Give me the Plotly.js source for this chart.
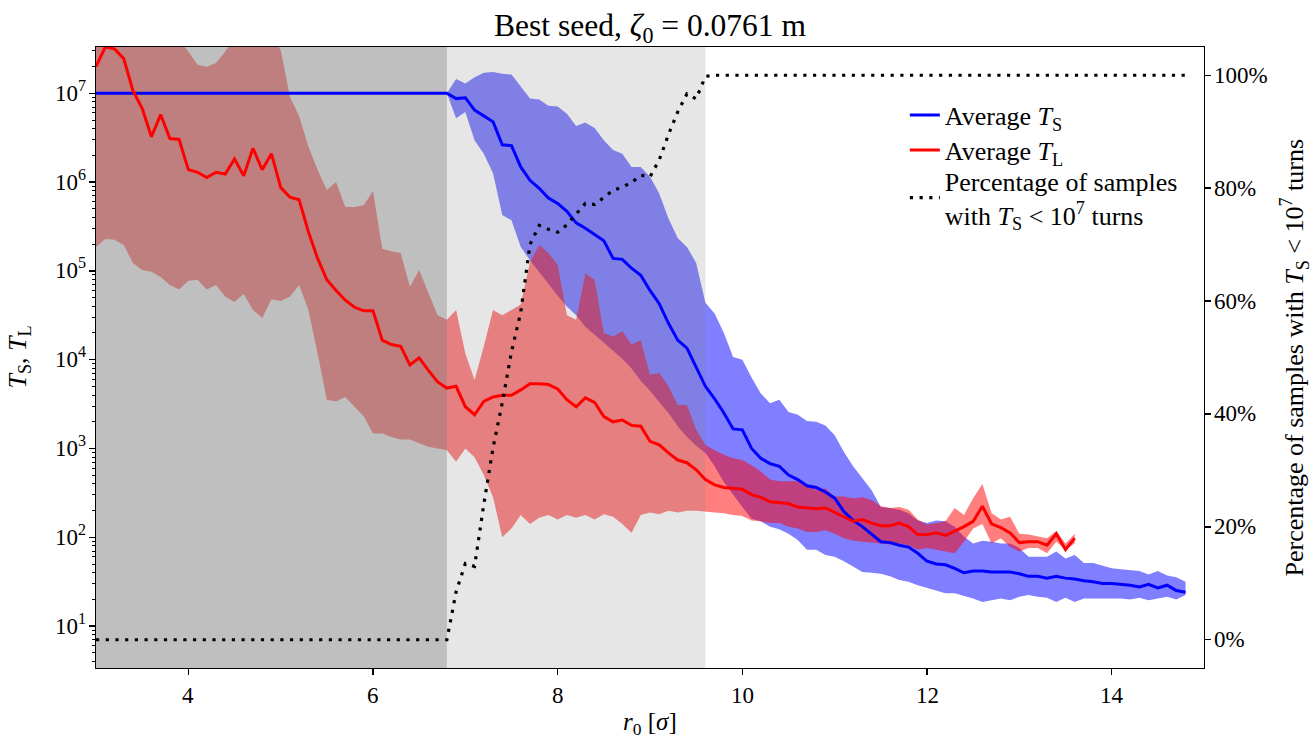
<!DOCTYPE html>
<html>
<head>
<meta charset="utf-8">
<script src="https://cdn.plot.ly/plotly-3.0.1.min.js"></script>
<style>html,body{margin:0;padding:0;background:#fff;}#chart{width:1314px;height:741px;}</style>
</head>
<body>
<div id="chart"></div>
<script>
// r0 values (in sigma)
const r0 = [3.0,3.1,3.2,3.3,3.4,3.5,3.6,3.7,3.8,3.9,
4.0,4.1,4.2,4.3,4.4,4.5,4.6,4.7,4.8,4.9,
5.0,5.1,5.2,5.3,5.4,5.5,5.6,5.7,5.8,5.9,
6.0,6.1,6.2,6.3,6.4,6.5,6.6,6.7,6.8,6.9,
7.0,7.1,7.2,7.3,7.4,7.5,7.6,7.7,7.8,7.9,
8.0,8.1,8.2,8.3,8.4,8.5,8.6,8.7,8.8,8.9,
9.0,9.1,9.2,9.3,9.4,9.5,9.6,9.7,9.8,9.9,
10.0,10.1,10.2,10.3,10.4,10.5,10.6,10.7,10.8,10.9,
11.0,11.1,11.2,11.3,11.4,11.5,11.6,11.7,11.8,11.9,
12.0,12.1,12.2,12.3,12.4,12.5,12.6,12.7,12.8,12.9,
13.0,13.1,13.2,13.3,13.4,13.5,13.6,13.7,13.8,13.9,
14.0,14.1,14.2,14.3,14.4,14.5,14.6,14.7,14.8];

// log10 of average T_S and its band (3.0 .. 14.8)
const logTS_mean = [7,7,7,7,7,7,7,7,7,7, 7,7,7,7,7,7,7,7,7,7, 7,7,7,7,7,7,7,7,7,7, 7,7,7,7,7,7,7,7,7,
6.94,6.95,6.81,6.74,6.68,6.42,6.41,6.17,6.02,5.93,
5.82,5.76,5.67,5.54,5.48,5.41,5.34,5.14,5.13,5.03,
4.95,4.78,4.63,4.41,4.22,4.13,3.92,3.70,3.56,3.40,
3.22,3.21,3.00,2.89,2.83,2.80,2.70,2.65,2.58,2.56,
2.51,2.44,2.29,2.19,2.12,2.04,1.95,1.94,1.91,1.89,
1.82,1.73,1.70,1.69,1.65,1.60,1.62,1.62,1.61,1.61,
1.61,1.59,1.56,1.56,1.54,1.56,1.54,1.53,1.51,1.50,
1.48,1.48,1.47,1.46,1.44,1.47,1.43,1.46,1.40,1.38];
const logTS_upper = [7,7,7,7,7,7,7,7,7,7, 7,7,7,7,7,7,7,7,7,7, 7,7,7,7,7,7,7,7,7,7, 7,7,7,7,7,7,7,7,7,
7.16,7.11,7.18,7.23,7.24,7.22,7.21,7.07,6.94,6.93,
6.86,6.85,6.77,6.63,6.67,6.61,6.47,6.36,6.32,6.17,
6.17,6.06,5.87,5.59,5.37,5.27,5.09,4.64,4.52,4.30,
4.03,4.00,3.80,3.62,3.51,3.55,3.41,3.38,3.31,3.30,
3.26,3.15,2.96,2.80,2.66,2.53,2.34,2.33,2.31,2.27,
2.19,2.16,2.19,2.18,2.12,2.01,1.93,1.96,1.95,1.93,
1.93,1.88,1.78,1.78,1.78,1.84,1.76,1.80,1.71,1.71,
1.68,1.65,1.64,1.63,1.62,1.58,1.62,1.57,1.55,1.50];
const logTS_lower = [7,7,7,7,7,7,7,7,7,7, 7,7,7,7,7,7,7,7,7,7, 7,7,7,7,7,7,7,7,7,7, 7,7,7,7,7,7,7,7,7,
6.72,6.79,6.47,6.32,6.10,5.63,5.57,5.27,5.12,4.99,
4.85,4.72,4.60,4.50,4.37,4.28,4.19,4.10,4.01,3.90,
3.76,3.65,3.52,3.40,3.25,3.13,3.03,2.95,2.80,2.62,
2.48,2.34,2.21,2.18,2.12,2.09,2.04,1.97,1.86,1.86,
1.80,1.78,1.73,1.67,1.61,1.60,1.59,1.56,1.52,1.50,
1.46,1.43,1.40,1.37,1.37,1.34,1.31,1.27,1.29,1.31,
1.29,1.33,1.35,1.33,1.32,1.27,1.32,1.27,1.31,1.31,
1.31,1.31,1.31,1.30,1.32,1.29,1.31,1.33,1.30,1.35];

// log10 of average T_L and its band (3.0 .. 13.6)
const logTL_mean = [7.30,7.52,7.50,7.39,7.03,6.83,6.51,6.76,6.49,6.48,
6.14,6.11,6.05,6.11,6.09,6.26,6.07,6.38,6.14,6.32,
5.94,5.83,5.80,5.44,5.14,4.90,4.78,4.67,4.59,4.55,
4.55,4.22,4.17,4.15,3.94,4.02,3.88,3.75,3.68,3.70,
3.47,3.38,3.53,3.58,3.60,3.60,3.66,3.73,3.73,3.72,
3.67,3.55,3.47,3.57,3.52,3.36,3.30,3.32,3.26,3.25,
3.08,3.04,2.95,2.87,2.84,2.76,2.65,2.59,2.56,2.55,
2.54,2.48,2.45,2.40,2.39,2.38,2.34,2.33,2.32,2.33,
2.28,2.23,2.18,2.20,2.16,2.13,2.13,2.16,2.12,2.03,
2.03,2.05,2.02,2.07,2.12,2.18,2.35,2.15,2.11,2.05,
1.94,1.95,1.95,1.91,2.04,1.86,1.99];
const logTL_upper = [7.75,7.90,7.95,7.85,7.70,7.80,7.75,7.70,7.65,7.60,
7.47,7.32,7.30,7.34,7.47,7.62,7.58,7.70,7.60,7.65,
7.49,6.96,6.74,6.40,6.14,5.91,6.00,5.72,5.72,5.74,
5.90,5.25,5.22,5.20,4.82,5.01,4.75,4.50,4.45,4.56,
4.07,3.77,4.15,4.56,4.50,4.56,4.62,5.10,5.29,5.20,
5.07,4.50,4.45,4.97,4.90,4.30,4.26,4.32,4.17,4.22,
3.83,3.85,3.70,3.49,3.49,3.21,3.04,2.98,2.93,2.89,
2.87,2.81,2.74,2.65,2.63,2.63,2.63,2.59,2.53,2.55,
2.46,2.46,2.44,2.45,2.42,2.35,2.33,2.34,2.31,2.20,
2.14,2.16,2.18,2.33,2.25,2.44,2.60,2.27,2.20,2.23,
2.04,2.03,2.01,1.99,2.07,1.93,2.04];
const logTL_lower = [5.27,5.36,5.35,5.29,5.09,5.01,4.99,4.93,4.84,4.79,
4.89,4.90,4.79,4.84,4.71,4.65,4.74,4.56,4.47,4.68,
4.66,4.71,4.84,4.56,4.07,3.55,3.53,3.58,3.47,3.36,
3.17,3.17,3.13,3.10,3.10,3.06,3.02,3.00,2.98,2.85,
3.00,2.90,2.70,2.45,2.00,2.10,2.25,2.15,2.22,2.25,
2.20,2.25,2.22,2.25,2.20,2.26,2.23,2.15,2.05,2.25,
2.28,2.26,2.30,2.28,2.30,2.30,2.29,2.28,2.27,2.25,
2.24,2.19,2.18,2.16,2.16,2.12,2.10,2.06,2.06,2.08,
2.04,1.99,1.96,1.95,1.94,1.93,1.92,1.93,1.91,1.86,
1.88,1.86,1.84,1.82,1.95,2.10,2.15,1.93,1.99,1.89,
1.84,1.88,1.88,1.82,1.95,1.86,1.93];

// percentage of samples with T_S < 1e7 turns (3.0 .. 14.8)
const pctBelow = [0,0,0,0,0,0,0,0,0,0, 0,0,0,0,0,0,0,0,0,0, 0,0,0,0,0,0,0,0,0,0, 0,0,0,0,0,0,0,0,0,
8.5,13.5,13,24,34,42,51,58,70,73.4,
72.7,72.2,73.5,75.5,77.3,77.1,78.4,79.6,80.2,81,
82.3,82,85,89.5,93.5,96.7,95.8,99.8,
100,100,100,100,100,100,100,100,100,100,
100,100,100,100,100,100,100,100,100,100,
100,100,100,100,100,100,100,100,100,100,
100,100,100,100,100,100,100,100,100,100,
100,100,100,100,100,100,100,100,100,100,
100,100];

// tick labels
const xTickVals = [4, 6, 8, 10, 12, 14];
const xTickText = ['4', '6', '8', '10', '12', '14'];
const yTickExp = [1, 2, 3, 4, 5, 6, 7];
const yTickText = ['10<sup>1</sup>','10<sup>2</sup>','10<sup>3</sup>','10<sup>4</sup>','10<sup>5</sup>','10<sup>6</sup>','10<sup>7</sup>'];
const pctTickVals = [0, 20, 40, 60, 80, 100];
const pctTickText = ['0%', '20%', '40%', '60%', '80%', '100%'];

// shaded regions (r0 limits)
const darkSpan = [3.0, 6.8];
const lightSpan = [6.8, 9.6];

// axis ranges
const xRange = [3, 15];
const yLogRange = [0.528, 7.521];
const pctRange = [-5, 105];

const pw = a => a.map(v => Math.pow(10, v));
const xTS = r0.slice(0, logTS_mean.length);
const xTL = r0.slice(0, logTL_mean.length);
const band = (xs, up, lo) => ({
  x: xs.concat(xs.slice().reverse()),
  y: pw(up).concat(pw(lo).reverse())
});
const bTS = band(xTS, logTS_upper, logTS_lower);
const bTL = band(xTL, logTL_upper, logTL_lower);

// minor log ticks (axis decoration)
const minorTicks = [];
for (let d = 0; d <= 7; d++) for (let m = 2; m <= 9; m++) minorTicks.push(m * Math.pow(10, d));

const SERIF = 'Liberation Serif';
const f = (s) => ({family: SERIF, size: s, color: '#000000'});

const spanTrace = (s, col) => ({
  x: [s[0], s[1], s[1], s[0]], y: [pctRange[0], pctRange[0], pctRange[1], pctRange[1]],
  yaxis: 'y2', type: 'scatter', mode: 'lines', fill: 'toself', fillcolor: col,
  line: {width: 0}, showlegend: false, hoverinfo: 'skip'
});

const traces = [
  {x: bTS.x, y: bTS.y, type: 'scatter', mode: 'lines', fill: 'toself',
   fillcolor: 'rgba(0,0,255,0.5)', line: {width: 0}, showlegend: false, hoverinfo: 'skip'},
  {x: bTL.x, y: bTL.y, type: 'scatter', mode: 'lines', fill: 'toself',
   fillcolor: 'rgba(255,0,0,0.5)', line: {width: 0}, showlegend: false, hoverinfo: 'skip'},
  spanTrace(darkSpan, 'rgba(128,128,128,0.5)'),
  spanTrace(lightSpan, 'rgba(128,128,128,0.2)'),
  {x: xTS, y: pw(logTS_mean), yaxis: 'y3', type: 'scatter', mode: 'lines',
   line: {color: '#0000ff', width: 3}, name: 'Average <i>T</i><sub>S</sub>', legend: 'legend'},
  {x: xTL, y: pw(logTL_mean), yaxis: 'y3', type: 'scatter', mode: 'lines',
   line: {color: '#ff0000', width: 3}, name: 'Average <i>T</i><sub>L</sub>', legend: 'legend2'},
  {x: r0.slice(0, pctBelow.length), y: pctBelow, yaxis: 'y4', type: 'scatter', mode: 'lines',
   line: {color: '#000000', width: 3.2, dash: '3.2px,6.5px'},
   name: 'Percentage of samples<br>with <i>T</i><sub>S</sub> &lt; 10<sup>7</sup> turns', legend: 'legend3'}
];

const ann = [];
xTickVals.forEach((v, i) => ann.push({xref: 'x', yref: 'paper', x: v, y: 0, xanchor: 'center', yanchor: 'middle',
  yshift: -27, text: xTickText[i], showarrow: false, font: f(23)}));
yTickExp.forEach((e, i) => ann.push({xref: 'paper', yref: 'y', x: 0, y: e, xanchor: 'right', yanchor: 'middle',
  xshift: -8, yshift: 2, text: yTickText[i], showarrow: false, font: f(23)}));
pctTickVals.forEach((v, i) => ann.push({xref: 'paper', yref: 'y2', x: 1, y: v, xanchor: 'left', yanchor: 'middle',
  xshift: 8, text: pctTickText[i], showarrow: false, font: f(23)}));
// axis titles
ann.push({xref: 'paper', yref: 'paper', x: 0.5, y: 0, xanchor: 'center', yanchor: 'bottom', yshift: -73,
  text: '<i>r</i><sub>0</sub> [<i>σ</i>]', showarrow: false, font: f(25)});
ann.push({xref: 'paper', yref: 'paper', x: 0, y: 0.5, xanchor: 'center', yanchor: 'middle', xshift: -78,
  textangle: -90, text: '<i>T</i><sub>S</sub>, <i>T</i><sub>L</sub>', showarrow: false, font: f(26)});
ann.push({xref: 'paper', yref: 'paper', x: 1, y: 0.5, xanchor: 'center', yanchor: 'middle', xshift: 90,
  textangle: -90, text: 'Percentage of samples with <i>T</i><sub>S</sub> &lt; 10<sup>7</sup> turns',
  showarrow: false, font: f(26)});

const legBase = {xanchor: 'left', yanchor: 'middle', bgcolor: 'rgba(0,0,0,0)', borderwidth: 0, font: f(26)};
const axLine = {showline: true, linecolor: '#000', linewidth: 1.3, showgrid: false, zeroline: false};

const layout = {
  width: 1314, height: 741,
  margin: {l: 96, r: 110, t: 47, b: 73, pad: 0},
  paper_bgcolor: '#ffffff', plot_bgcolor: '#ffffff',
  font: f(23),
  title: {text: 'Best seed, <i>ζ</i><sub>0</sub> = 0.0761 m', x: 0.4947, xanchor: 'center',
          y: 0.966, yanchor: 'middle', yref: 'container', font: f(31.5)},
  xaxis: Object.assign({range: xRange, tickmode: 'array', tickvals: xTickVals, showticklabels: false,
          ticks: 'outside', ticklen: 6, tickwidth: 1.3, tickcolor: '#000', mirror: true}, axLine),
  yaxis: Object.assign({type: 'log', range: yLogRange, tickmode: 'array', tickvals: pw(yTickExp), showticklabels: false,
          ticks: 'outside', ticklen: 6, tickwidth: 1.3, tickcolor: '#000', mirror: false}, axLine),
  yaxis2: Object.assign({overlaying: 'y', anchor: 'x', side: 'right', range: pctRange, tickmode: 'array',
          tickvals: pctTickVals, showticklabels: false,
          ticks: 'outside', ticklen: 6, tickwidth: 1.3, tickcolor: '#000'}, axLine),
  yaxis3: {overlaying: 'y', anchor: 'x', side: 'left', type: 'log', range: yLogRange, tickmode: 'array',
          tickvals: minorTicks, showticklabels: false, ticks: 'outside', ticklen: 3.5, tickwidth: 1, tickcolor: '#000',
          showline: false, showgrid: false, zeroline: false},
  yaxis4: {overlaying: 'y', anchor: 'x', side: 'right', range: pctRange, visible: false,
          showgrid: false, zeroline: false},
  annotations: ann,
  legend: Object.assign({x: 0.73, y: 0.8905}, legBase),
  legend2: Object.assign({x: 0.73, y: 0.834}, legBase),
  legend3: Object.assign({x: 0.73, y: 0.757}, legBase),
  hovermode: false
};

Plotly.newPlot('chart', traces, layout, {displayModeBar: false, staticPlot: true});
</script>
</body>
</html>
